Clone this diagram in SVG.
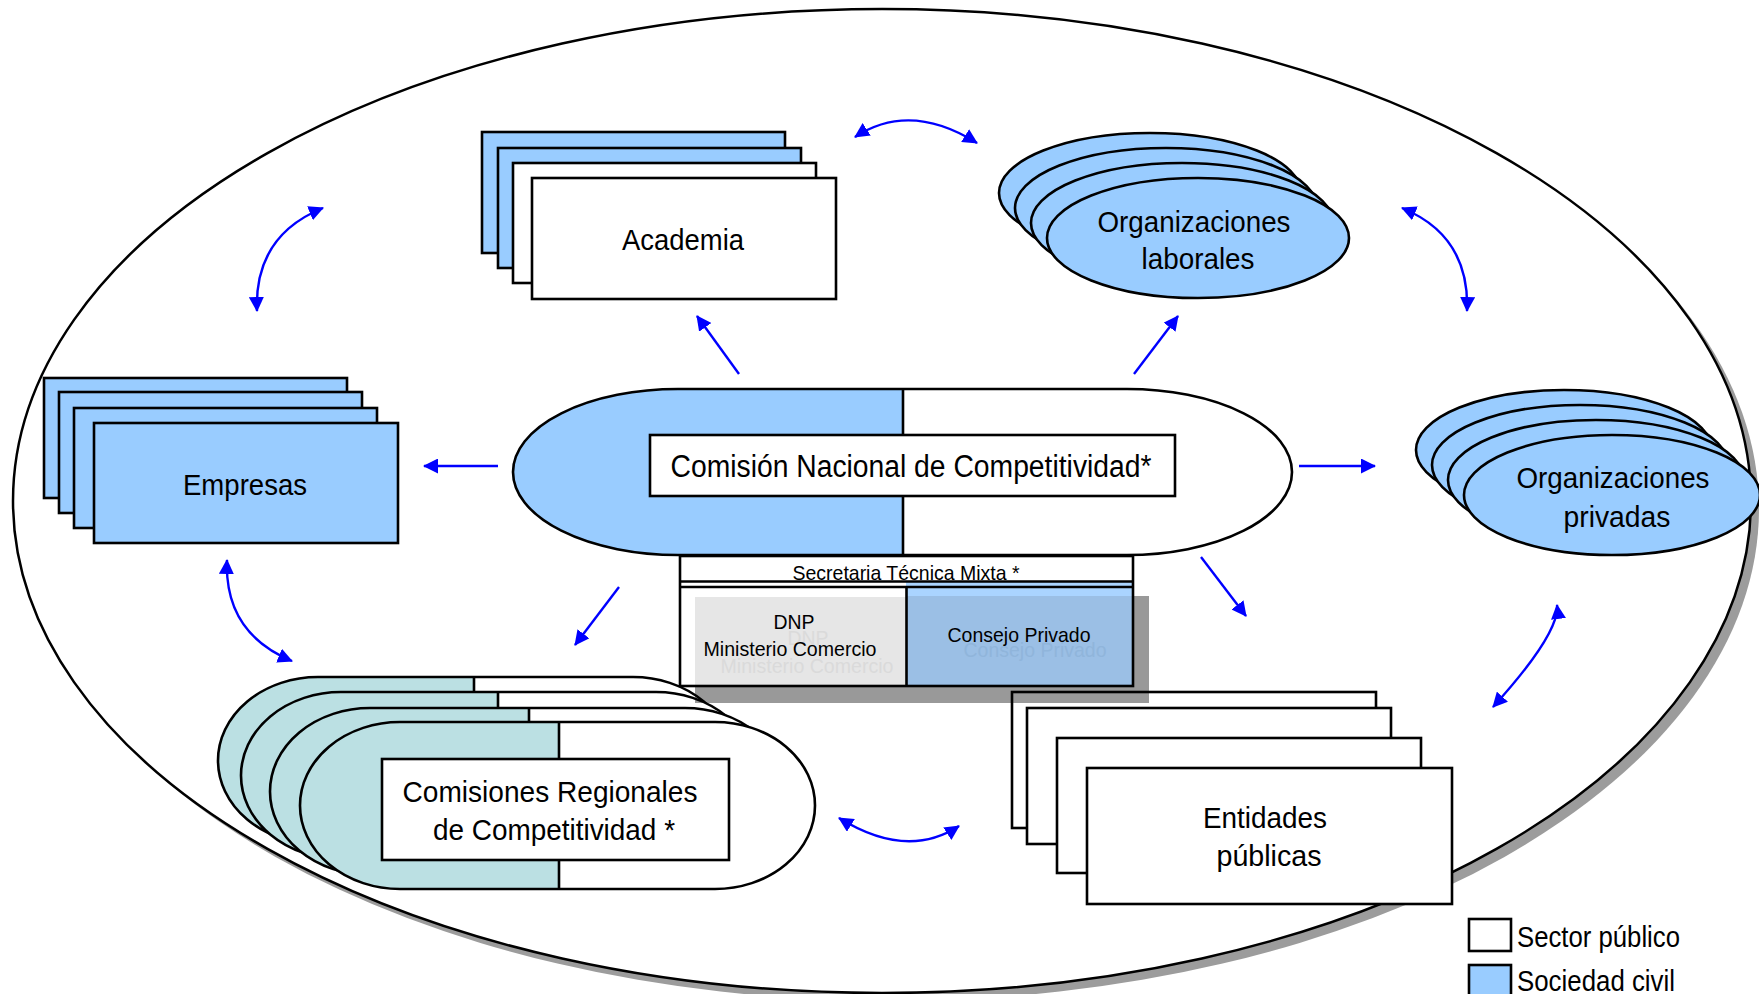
<svg xmlns="http://www.w3.org/2000/svg" width="1759" height="994" viewBox="0 0 1759 994">
<style>
.blue{fill:#99CCFF;stroke:#000;stroke-width:2.6}
.white{fill:#FFFFFF;stroke:#000;stroke-width:2.6}
.teal{fill:#BBE0E3;stroke:none}
.ln{fill:none;stroke:#000;stroke-width:2.6}
.t{font-family:"Liberation Sans",Arial,sans-serif;fill:#000;text-anchor:middle}
.big{font-size:30px}
.sm{font-size:21px}
.lg{font-family:"Liberation Sans",Arial,sans-serif;font-size:29px;fill:#000}
</style>
<defs>
<marker id="ah" viewBox="0 0 15 15" refX="14" refY="7.5" markerWidth="15" markerHeight="15" markerUnits="userSpaceOnUse" orient="auto-start-reverse">
<path d="M0,0 L15,7.5 L0,15 z" fill="#0000FF"/>
</marker>
</defs>

<g id="frame">
<ellipse cx="890" cy="509" rx="869" ry="492" fill="#9C9C9C"/>
<ellipse cx="882" cy="501" rx="869" ry="492" fill="#FFFFFF" stroke="#000" stroke-width="2.5"/>
</g>

<g id="academia">
<rect class="blue" x="482" y="132" width="303" height="121"/>
<rect class="blue" x="498" y="148" width="303" height="120"/>
<rect class="white" x="513" y="163" width="303" height="120"/>
<rect class="white" x="532" y="178" width="304" height="121"/>
<text class="t big" x="683" y="250" textLength="122" lengthAdjust="spacingAndGlyphs">Academia</text>
</g>

<g id="org-laborales">
<ellipse class="blue" cx="1150" cy="193" rx="151" ry="60"/>
<ellipse class="blue" cx="1166" cy="208" rx="151" ry="60"/>
<ellipse class="blue" cx="1182" cy="223" rx="151" ry="60"/>
<ellipse class="blue" cx="1198" cy="238" rx="151" ry="60"/>
<text class="t big" x="1194" y="232" textLength="193" lengthAdjust="spacingAndGlyphs">Organizaciones</text>
<text class="t big" x="1198" y="269" textLength="113" lengthAdjust="spacingAndGlyphs">laborales</text>
</g>

<g id="empresas">
<rect class="blue" x="44" y="378" width="303" height="120"/>
<rect class="blue" x="59" y="392" width="303" height="121"/>
<rect class="blue" x="74" y="408" width="303" height="120"/>
<rect class="blue" x="94" y="423" width="304" height="120"/>
<text class="t big" x="245" y="495" textLength="124" lengthAdjust="spacingAndGlyphs">Empresas</text>
</g>

<g id="org-privadas">
<ellipse class="blue" cx="1564" cy="450" rx="148" ry="60"/>
<ellipse class="blue" cx="1580" cy="465" rx="148" ry="60"/>
<ellipse class="blue" cx="1596" cy="480" rx="148" ry="60"/>
<ellipse class="blue" cx="1612" cy="495" rx="148" ry="60"/>
<text class="t big" x="1613" y="488" textLength="193" lengthAdjust="spacingAndGlyphs">Organizaciones</text>
<text class="t big" x="1617" y="527" textLength="107" lengthAdjust="spacingAndGlyphs">privadas</text>
</g>

<g id="entidades">
<rect class="white" x="1012" y="692" width="364" height="136"/>
<rect class="white" x="1027" y="708" width="364" height="136"/>
<rect class="white" x="1057" y="738" width="364" height="135"/>
<rect class="white" x="1087" y="768" width="365" height="136"/>
<text class="t big" x="1265" y="828" textLength="124" lengthAdjust="spacingAndGlyphs">Entidades</text>
<text class="t big" x="1269" y="866" textLength="105" lengthAdjust="spacingAndGlyphs">públicas</text>
</g>

<g id="comisiones-regionales">
<path d="M318,677 H633 A100,83.5 0 0 1 633,844 H318 A100,83.5 0 0 1 318,677 Z" fill="#fff"/>
<path d="M474,677 H318 A100,83.5 0 0 0 318,844 H474 Z" class="teal"/>
<path d="M318,677 H633 A100,83.5 0 0 1 633,844 H318 A100,83.5 0 0 1 318,677 Z M474,677 V844" class="ln"/>
<path d="M341,692 H656 A100,83.5 0 0 1 656,859 H341 A100,83.5 0 0 1 341,692 Z" fill="#fff"/>
<path d="M498,692 H341 A100,83.5 0 0 0 341,859 H498 Z" class="teal"/>
<path d="M341,692 H656 A100,83.5 0 0 1 656,859 H341 A100,83.5 0 0 1 341,692 Z M498,692 V859" class="ln"/>
<path d="M370,708 H685 A100,83.5 0 0 1 685,875 H370 A100,83.5 0 0 1 370,708 Z" fill="#fff"/>
<path d="M529,708 H370 A100,83.5 0 0 0 370,875 H529 Z" class="teal"/>
<path d="M370,708 H685 A100,83.5 0 0 1 685,875 H370 A100,83.5 0 0 1 370,708 Z M529,708 V875" class="ln"/>
<path d="M400,722 H715 A100,83.5 0 0 1 715,889 H400 A100,83.5 0 0 1 400,722 Z" fill="#fff"/>
<path d="M559,722 H400 A100,83.5 0 0 0 400,889 H559 Z" class="teal"/>
<path d="M400,722 H715 A100,83.5 0 0 1 715,889 H400 A100,83.5 0 0 1 400,722 Z M559,722 V889" class="ln"/>
<rect class="white" x="382" y="759" width="347" height="101"/>
<text class="t big" x="550" y="802" textLength="295" lengthAdjust="spacingAndGlyphs">Comisiones Regionales</text>
<text class="t big" x="554" y="840" textLength="242" lengthAdjust="spacingAndGlyphs">de Competitividad *</text>
</g>

<g id="comision-nacional">
<path d="M678,389 H1127 A165,83 0 0 1 1127,555 H678 A165,83 0 0 1 678,389 Z" fill="#fff"/>
<path d="M903,389 H678 A165,83 0 0 0 678,555 H903 Z" fill="#99CCFF"/>
<path d="M678,389 H1127 A165,83 0 0 1 1127,555 H678 A165,83 0 0 1 678,389 Z M903,389 V555" class="ln"/>
<rect class="white" x="650" y="435" width="525" height="61"/>
<text class="t" font-size="31" x="911" y="477" textLength="481" lengthAdjust="spacingAndGlyphs">Comisión Nacional de Competitividad*</text>
</g>

<g id="secretaria">
<rect x="695" y="596" width="454" height="107" fill="#000" fill-opacity="0.4"/>
<rect x="680" y="556" width="453" height="25" fill="#fff"/>
<rect x="680" y="581" width="226" height="105" fill="#fff"/>
<rect x="906" y="581" width="227" height="15" fill="#AAD4FF"/>
<rect x="695" y="597" width="211" height="89" fill="#E6E6E6"/>
<rect x="906" y="596" width="227" height="90" fill="#9BBFE5"/>
<text class="t sm" x="906" y="580" textLength="227" lengthAdjust="spacingAndGlyphs">Secretaria Técnica Mixta *</text>
<text class="t sm" x="808" y="645" textLength="41" lengthAdjust="spacingAndGlyphs" style="fill:#DADADA">DNP</text>
<text class="t sm" x="807" y="673" textLength="173" lengthAdjust="spacingAndGlyphs" style="fill:#DADADA">Ministerio Comercio</text>
<text class="t sm" x="1035" y="657" textLength="143" lengthAdjust="spacingAndGlyphs" style="fill:#90B5DB">Consejo Privado</text>
<text class="t sm" x="794" y="629" textLength="41" lengthAdjust="spacingAndGlyphs">DNP</text>
<text class="t sm" x="790" y="656" textLength="173" lengthAdjust="spacingAndGlyphs">Ministerio Comercio</text>
<text class="t sm" x="1019" y="642" textLength="143" lengthAdjust="spacingAndGlyphs">Consejo Privado</text>
<rect x="680" y="556" width="453" height="130" class="ln"/>
<path d="M680,581.5 H1133 M680,587 H1133 M906.5,587 V686" class="ln"/>
</g>

<g id="legend">
<rect class="white" x="1469" y="919" width="42" height="32"/>
<rect class="blue" x="1469" y="965" width="42" height="34"/>
<text class="lg" x="1517" y="947" textLength="163" lengthAdjust="spacingAndGlyphs">Sector público</text>
<text class="lg" x="1517" y="991" textLength="158" lengthAdjust="spacingAndGlyphs">Sociedad civil</text>
</g>

<g id="connectors" fill="none" stroke="#0000FF" stroke-width="2.4">
<path d="M739,374 L697,316" marker-end="url(#ah)"/>
<path d="M1134,374 L1178,316" marker-end="url(#ah)"/>
<path d="M498,466 L424,466" marker-end="url(#ah)"/>
<path d="M1299,466 L1375,466" marker-end="url(#ah)"/>
<path d="M619,587 L575,645" marker-end="url(#ah)"/>
<path d="M1201,557 L1246,616" marker-end="url(#ah)"/>
<path d="M855,137 Q910,101 977,143" marker-start="url(#ah)" marker-end="url(#ah)"/>
<path d="M323,208 Q254,236 257,311" marker-start="url(#ah)" marker-end="url(#ah)"/>
<path d="M1402,208 Q1470,236 1467,311" marker-start="url(#ah)" marker-end="url(#ah)"/>
<path d="M227,560 Q224,633 292,661" marker-start="url(#ah)" marker-end="url(#ah)"/>
<path d="M1557,605 Q1560,633 1493,707" marker-start="url(#ah)" marker-end="url(#ah)"/>
<path d="M839,818 Q907,860 959,826" marker-start="url(#ah)" marker-end="url(#ah)"/>
</g>
</svg>
